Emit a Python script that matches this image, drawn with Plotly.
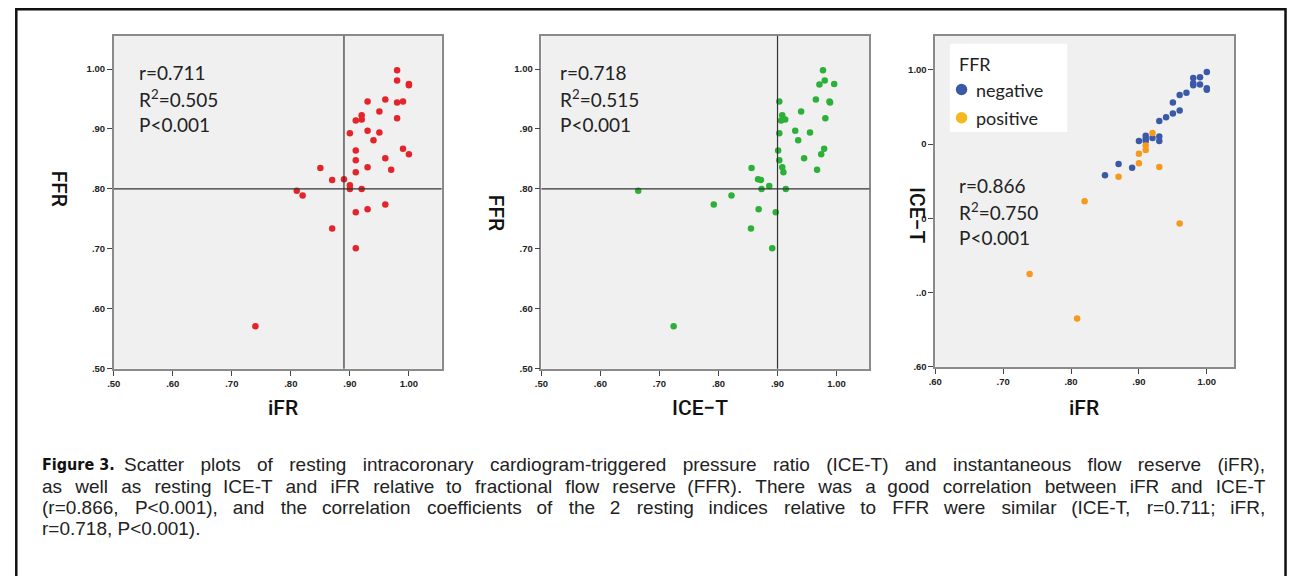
import plotly.graph_objects as go

# ---------------- data ----------------
# Panel 1: iFR vs FFR
p1_ifr = [0.980, 0.980, 1.000, 1.000, 0.930, 0.960, 0.980, 0.990, 0.950, 0.920, 0.920, 0.910,
          0.980, 0.930, 0.950, 0.900, 0.940, 0.910, 0.990, 1.000, 0.910, 0.960, 0.930, 0.850,
          0.970, 0.910, 0.870, 0.890, 0.900, 0.900, 0.920, 0.810, 0.820, 0.960, 0.930, 0.910,
          0.870, 0.910, 0.740]
p1_ffr = [0.998, 0.981, 0.975, 0.973, 0.946, 0.949, 0.944, 0.946, 0.929, 0.923, 0.916, 0.914,
          0.918, 0.897, 0.894, 0.893, 0.881, 0.864, 0.867, 0.858, 0.848, 0.851, 0.836, 0.835,
          0.832, 0.828, 0.815, 0.816, 0.806, 0.800, 0.800, 0.797, 0.789, 0.774, 0.766, 0.761,
          0.734, 0.701, 0.571]

# Panel 2: ICE-T vs FFR
p2_ice = [0.977, 0.980, 0.971, 0.996, 0.903, 0.965, 0.940, 0.989, 0.988, 0.908, 0.913, 0.906,
          0.981, 0.930, 0.955, 0.903, 0.935, 0.901, 0.979, 0.974, 0.903, 0.945, 0.908, 0.856,
          0.967, 0.910, 0.867, 0.872, 0.886, 0.873, 0.914, 0.664, 0.822, 0.792, 0.868, 0.897,
          0.855, 0.891, 0.724]
p2_ffr = [0.998, 0.981, 0.974, 0.975, 0.946, 0.949, 0.929, 0.944, 0.946, 0.923, 0.916, 0.914,
          0.918, 0.897, 0.894, 0.893, 0.881, 0.864, 0.867, 0.858, 0.848, 0.851, 0.836, 0.835,
          0.832, 0.828, 0.816, 0.815, 0.805, 0.800, 0.800, 0.797, 0.789, 0.774, 0.766, 0.761,
          0.734, 0.701, 0.571]

# Panel 3: iFR vs ICE-T, split by FFR
neg_ifr = [1.000, 0.990, 0.980, 0.980, 0.980, 0.990, 1.000, 1.000, 0.970, 0.960, 0.950, 0.960,
           0.950, 0.940, 0.930, 0.910, 0.910, 0.920, 0.930, 0.900, 0.910, 0.930, 0.870, 0.890,
           0.850]
neg_ice = [0.997, 0.990, 0.989, 0.982, 0.979, 0.980, 0.975, 0.973, 0.969, 0.966, 0.956, 0.945,
           0.941, 0.936, 0.931, 0.911, 0.907, 0.908, 0.910, 0.904, 0.904, 0.904, 0.873, 0.868,
           0.858]
pos_ifr = [0.920, 0.910, 0.910, 0.900, 0.900, 0.930, 0.870, 0.820, 0.960, 0.739, 0.809]
pos_ice = [0.915, 0.898, 0.892, 0.887, 0.874, 0.869, 0.856, 0.823, 0.793, 0.725, 0.665]

cut_ifr = 0.89
cut_ice = 0.90
cut_ffr = 0.80

ticks_a = [0.5, 0.6, 0.7, 0.8, 0.9, 1.0]
ticks_a_text = [".50", ".60", ".70", ".80", ".90", "1.00"]
ticks_b = [0.6, 0.7, 0.8, 0.9, 1.0]
ticks_b_text = [".60", ".70", ".80", ".90", "1.00"]
ticks_b_ytext = [".60", "..0", "0", "0", "1.00"]

stats1 = ["r=0.711", "R<sup>2</sup>=0.505", "P<0.001"]
stats2 = ["r=0.718", "R<sup>2</sup>=0.515", "P<0.001"]
stats3 = ["r=0.866", "R<sup>2</sup>=0.750", "P<0.001"]

caption_head = "Figure 3."
caption_lines = [
    "Scatter plots of resting intracoronary cardiogram-triggered pressure ratio (ICE-T) and instantaneous flow reserve (iFR),",
    "as well as resting ICE-T and iFR relative to fractional flow reserve (FFR). There was a good correlation between iFR and ICE-T",
    "(r=0.866, P<0.001), and the correlation coefficients of the 2 resting indices relative to FFR were similar (ICE-T, r=0.711; iFR,",
    "r=0.718, P<0.001).",
]
# extra inter-word space to imitate the justified caption (last line is not justified):
# (normal extra space, alternative extra space, use alternative every n-th gap)
caption_gap = [("\u2002\u200a", "\u2002\u200a", 0),
               ("\u2005\u2006", "\u2005\u200a", 4),
               ("\u2002\u200a", "\u2002", 2),
               ("", "", 0)]

RED = "#E3252B"
GREEN = "#2DB038"
BLUE = "#3A5AA8"
ORANGE = "#F39A1F"
YELLOW = "#F5B81F"

OFF_X, OFF_Y = 14, 8  # page offset of the figure
W, H = 1296 - OFF_X, 576 - OFF_Y


def px(x):
    return (x - OFF_X) / W


def py(y):
    return 1 - (y - OFF_Y) / H


fig = go.Figure()
fig.add_trace(go.Scatter(x=p1_ifr, y=p1_ffr, mode="markers", xaxis="x", yaxis="y",
                         marker=dict(color=RED, size=6.5), showlegend=False))
fig.add_trace(go.Scatter(x=p2_ice, y=p2_ffr, mode="markers", xaxis="x2", yaxis="y2",
                         marker=dict(color=GREEN, size=6.5), showlegend=False))
fig.add_trace(go.Scatter(x=neg_ifr, y=neg_ice, mode="markers", xaxis="x3", yaxis="y3",
                         marker=dict(color=BLUE, size=6.5), showlegend=False, name="negative"))
fig.add_trace(go.Scatter(x=pos_ifr, y=pos_ice, mode="markers", xaxis="x3", yaxis="y3",
                         marker=dict(color=ORANGE, size=6.5), showlegend=False, name="positive"))

tickfont = dict(family="Liberation Sans, Arial, sans-serif", size=9.5, color="#222", weight="bold")
axis_common = dict(showline=True, mirror=True, linecolor="#8a8a8a", linewidth=1.5, showgrid=False,
                   zeroline=False, ticks="outside", ticklen=5, tickcolor="#444", tickwidth=1,
                   tickfont=tickfont, tickmode="array")

d1 = [px(113.3), px(443)]
d2 = [px(543.3), px(873)]
d3 = [px(939.3), px(1240)]
dy12 = [py(372), py(36)]
dy3 = [py(370), py(36)]

fig.update_layout(
    width=W, height=H, margin=dict(l=0, r=0, t=0, b=0),
    paper_bgcolor="white", plot_bgcolor="#F0F0F0",
    xaxis=dict(domain=d1, range=[0.5, 1.0555], tickvals=ticks_a, ticktext=ticks_a_text, anchor="y", **axis_common),
    yaxis=dict(domain=dy12, range=[0.5, 1.0555], tickvals=ticks_a, ticktext=ticks_a_text, anchor="x", **axis_common),
    xaxis2=dict(domain=d2, range=[0.5, 1.0555], tickvals=ticks_a, ticktext=ticks_a_text, anchor="y2", **axis_common),
    yaxis2=dict(domain=dy12, range=[0.5, 1.0555], tickvals=ticks_a, ticktext=ticks_a_text, anchor="x2", **axis_common),
    xaxis3=dict(domain=d3, range=[0.6, 1.0405], tickvals=ticks_b, ticktext=ticks_b_text, anchor="y3", **axis_common),
    yaxis3=dict(domain=dy3, range=[0.6, 1.0458], tickvals=ticks_b, ticktext=ticks_b_ytext, anchor="x3", **axis_common),
)

shapes = []
# reference lines
for xr, yr, xv, yv in [("x", "y", cut_ifr, cut_ffr), ("x2", "y2", cut_ice, cut_ffr)]:
    shapes.append(dict(type="line", xref=xr, yref=yr + " domain", x0=xv, x1=xv, y0=0, y1=1,
                       line=dict(color="#333", width=1.2), layer="above"))
    shapes.append(dict(type="line", xref=xr + " domain", yref=yr, x0=0, x1=1, y0=yv, y1=yv,
                       line=dict(color="#333", width=1.2), layer="above"))
# legend box panel 3
shapes.append(dict(type="rect", xref="paper", yref="paper", x0=px(954), x1=px(1072), y0=py(133), y1=py(44),
                   fillcolor="white", line=dict(width=0), layer="below"))
shapes.append(dict(type="circle", xref="paper", yref="paper", x0=px(960), x1=px(971.5), y0=py(96), y1=py(84.5),
                   fillcolor=BLUE, line=dict(width=0)))
shapes.append(dict(type="circle", xref="paper", yref="paper", x0=px(960), x1=px(971.5), y0=py(124.5), y1=py(113),
                   fillcolor=YELLOW, line=dict(width=0)))
# outer figure border
shapes.append(dict(type="rect", xref="paper", yref="paper", x0=px(OFF_X + 1.3), x1=px(1291.5), y0=-0.05,
                   y1=py(OFF_Y + 1.3), line=dict(color="#111", width=2.5), fillcolor="rgba(0,0,0,0)"))
fig.update_layout(shapes=shapes)

ann = []


def add_text(x, y, text, font, xanchor="center", textangle=0):
    ann.append(dict(x=px(x), y=py(y), xref="paper", yref="paper", text=text, showarrow=False,
                    xanchor=xanchor, yanchor="middle", textangle=textangle, font=font,
                    borderpad=0))


def justify(line, base, alt, every):
    words = line.split(" ")
    if not base:
        return line
    out = words[0]
    for k, w in enumerate(words[1:], start=1):
        g = alt if (every and k % every == 0) else base
        out += " " + g + w
    return out


statfont = dict(family="Lato, Carlito, Open Sans, sans-serif", size=19, color="#222")
for x0, y0, lines in [(138, 73, stats1), (561, 73, stats2), (962, 187, stats3)]:
    for i, t in enumerate(lines):
        add_text(x0, y0 + i * 26.5, t, statfont, xanchor="left")

titlefont = dict(family="Roboto, DejaVu Sans, sans-serif", size=21, color="#111", weight=500)
add_text(283, 412, "iFR", titlefont)
add_text(703, 412, "ICE−T", titlefont)
add_text(1089, 412, "iFR", titlefont)
add_text(58, 190, "FFR", titlefont, textangle=90)
add_text(497, 215, "FFR", titlefont, textangle=90)
add_text(921, 217, "ICE−T", titlefont, textangle=90)

legfont = dict(family="Lato, Carlito, Open Sans, sans-serif", size=18, color="#222")
add_text(962, 65, "FFR", legfont, xanchor="left")
add_text(979, 91, "negative", legfont, xanchor="left")
add_text(979, 119, "positive", legfont, xanchor="left")

capfont = dict(family="Liberation Sans, Arial, sans-serif", size=19, color="#222")
headfont = dict(family="DejaVu Sans Condensed, DejaVu Sans, sans-serif", size=16, color="#111", weight="bold")
add_text(40, 469, caption_head, headfont, xanchor="left")
for i, (t, g) in enumerate(zip(caption_lines, caption_gap)):
    x0 = 123 if i == 0 else 40
    add_text(x0, 469 + i * 21.5, justify(t, *g), capfont, xanchor="left")
fig.update_layout(annotations=ann)

fig.write_html("out.html")
